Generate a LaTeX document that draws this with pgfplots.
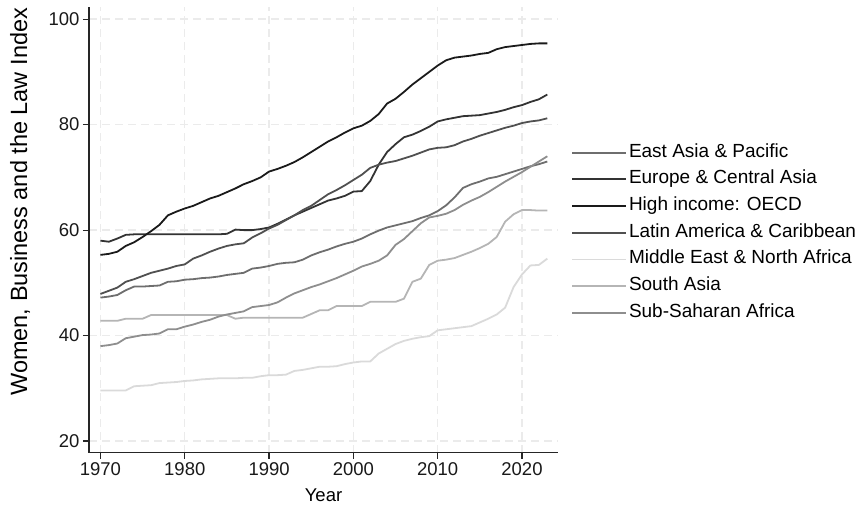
\documentclass[border=0pt]{standalone}
\usepackage{pgfplots}
\pgfplotsset{compat=1.18}
\usepackage{pgfplotstable}
\usetikzlibrary{calc}
\usepackage{fontspec}
\setmainfont{Liberation Sans}
\definecolor{cEAP}{HTML}{6E6E6E}
\definecolor{cECA}{HTML}{333333}
\definecolor{cOECD}{HTML}{1A1A1A}
\definecolor{cLAC}{HTML}{505050}
\definecolor{cMENA}{HTML}{DADADA}
\definecolor{cSA}{HTML}{B5B5B5}
\definecolor{cSSA}{HTML}{8E8E8E}
\definecolor{gridc}{HTML}{EBEBEB}
\pgfplotstableread{
year EAP ECA OECD LAC MENA SA SSA
1970 47.2 58.0 55.3 47.9 29.6 42.8 38.0
1971 47.4 57.8 55.5 48.5 29.6 42.8 38.2
1972 47.7 58.4 55.9 49.1 29.6 42.8 38.5
1973 48.6 59.1 57.0 50.2 29.6 43.2 39.5
1974 49.3 59.2 57.7 50.7 30.4 43.2 39.8
1975 49.3 59.2 58.7 51.3 30.5 43.2 40.1
1976 49.4 59.2 59.8 51.9 30.6 43.9 40.2
1977 49.5 59.2 61.0 52.3 31.0 43.9 40.4
1978 50.2 59.2 62.8 52.7 31.1 43.9 41.2
1979 50.3 59.2 63.5 53.2 31.2 43.9 41.2
1980 50.6 59.2 64.1 53.5 31.4 43.9 41.7
1981 50.7 59.2 64.6 54.6 31.5 43.9 42.1
1982 50.9 59.2 65.3 55.2 31.7 43.9 42.6
1983 51.0 59.2 66.0 55.9 31.8 43.9 43.0
1984 51.2 59.2 66.5 56.5 31.9 43.9 43.6
1985 51.5 59.3 67.2 57.0 31.9 43.9 44.0
1986 51.7 60.1 67.9 57.3 31.9 43.2 44.3
1987 51.9 60.0 68.7 57.5 32.0 43.4 44.6
1988 52.7 60.0 69.3 58.6 32.0 43.4 45.4
1989 52.9 60.2 70.0 59.4 32.3 43.4 45.6
1990 53.2 60.5 71.1 60.3 32.5 43.4 45.8
1991 53.6 61.2 71.6 61.0 32.5 43.4 46.3
1992 53.8 62.0 72.2 61.9 32.6 43.4 47.2
1993 53.9 62.8 72.9 62.8 33.3 43.4 48.0
1994 54.4 63.5 73.8 63.8 33.5 43.4 48.6
1995 55.2 64.2 74.8 64.6 33.8 44.1 49.2
1996 55.8 64.9 75.8 65.7 34.1 44.8 49.7
1997 56.3 65.6 76.8 66.8 34.1 44.8 50.3
1998 56.9 66.0 77.6 67.6 34.2 45.6 50.9
1999 57.4 66.5 78.5 68.5 34.6 45.6 51.6
2000 57.8 67.3 79.3 69.5 34.9 45.6 52.3
2001 58.4 67.4 79.8 70.5 35.1 45.6 53.1
2002 59.2 69.3 80.7 71.8 35.1 46.4 53.6
2003 59.9 72.4 82.0 72.4 36.6 46.4 54.2
2004 60.5 74.8 84.0 72.8 37.5 46.4 55.2
2005 60.9 76.3 84.9 73.1 38.4 46.4 57.2
2006 61.3 77.6 86.2 73.6 39.0 47.0 58.3
2007 61.7 78.1 87.6 74.1 39.4 50.2 59.8
2008 62.3 78.8 88.8 74.7 39.7 50.8 61.3
2009 62.8 79.6 90.0 75.3 39.9 53.4 62.4
2010 63.6 80.6 91.2 75.6 41.0 54.2 62.7
2011 64.7 81.0 92.2 75.7 41.2 54.4 63.1
2012 66.2 81.3 92.7 76.1 41.4 54.7 63.8
2013 68.0 81.6 92.9 76.8 41.6 55.3 64.8
2014 68.7 81.7 93.1 77.3 41.8 55.9 65.6
2015 69.2 81.8 93.4 77.9 42.5 56.6 66.3
2016 69.8 82.1 93.6 78.4 43.2 57.4 67.2
2017 70.1 82.4 94.3 78.9 44.0 58.7 68.2
2018 70.6 82.8 94.7 79.4 45.3 61.6 69.2
2019 71.1 83.3 94.9 79.8 49.2 63.0 70.1
2020 71.6 83.7 95.1 80.3 51.6 63.8 71.0
2021 72.1 84.3 95.3 80.6 53.3 63.8 72.0
2022 72.5 84.8 95.4 80.8 53.4 63.7 73.0
2023 73.0 85.7 95.4 81.2 54.6 63.7 74.0
}\datatable
\begin{document}
\begin{tikzpicture}
\path[use as bounding box] (-89pt,-58.3pt) rectangle (767pt,452.7pt);
\begin{axis}[
  scale only axis,
  width=469pt, height=445.7pt,
  xmin=1968.64, xmax=2024.27,
  ymin=17.8, ymax=102.3,
  axis lines*=left,
  axis line style={color=black!85, line width=1.2pt},
  tick align=outside,
  major tick length=6pt,
  tick style={color=black!85, line width=1.2pt},
  xtick={1970,1980,...,2020},
  ytick={20,40,...,100},
  x tick label style={/pgf/number format/1000 sep={}},
  /pgf/number format/assume math mode=true,
  tick label style={font=\fontsize{18.5}{22}\selectfont, color=black!90},
  grid=major,
  major grid style={color=gridc, line width=1.3pt, dash pattern=on 8pt off 5pt},
  xlabel={Year},
  ylabel={Women, Business and the Law Index},
  every axis x label/.style={at={($(rel axis cs:0.5,0)+(0pt,-42.3pt)$)}, anchor=center,
    font=\fontsize{18.5}{22}\selectfont},
  every axis y label/.style={at={($(rel axis cs:0,0.563)+(-69pt,0pt)$)}, anchor=center, rotate=90,
    font=\fontsize{23.5}{27}\selectfont},
  legend style={at={(1,0.4935)}, anchor=west, xshift=13pt, draw=none, fill=none, inner sep=0pt,
    font=\fontsize{19}{22}\selectfont, row sep=9.7pt, cells={anchor=west},
    nodes={text height=13pt, text depth=4pt, inner ysep=0pt}},
  legend image code/.code={\draw[#1, line width=1.8pt] (0pt,0pt) -- (44pt,0pt); \path (0pt,0pt) -- (54pt,0pt);},
  every axis plot/.append style={line width=1.8pt, line join=round},
  clip=false,
]
\addplot[color=cEAP, no markers] table[x=year, y=EAP] {\datatable};
\addlegendentry{East Asia \& Pacific}
\addplot[color=cECA, no markers] table[x=year, y=ECA] {\datatable};
\addlegendentry{Europe \& Central Asia}
\addplot[color=cOECD, no markers] table[x=year, y=OECD] {\datatable};
\addlegendentry{High income: OECD}
\addplot[color=cLAC, no markers] table[x=year, y=LAC] {\datatable};
\addlegendentry{Latin America \& Caribbean}
\addplot[color=cMENA, no markers] table[x=year, y=MENA] {\datatable};
\addlegendentry{Middle East \& North Africa}
\addplot[color=cSA, no markers] table[x=year, y=SA] {\datatable};
\addlegendentry{South Asia}
\addplot[color=cSSA, no markers] table[x=year, y=SSA] {\datatable};
\addlegendentry{Sub-Saharan Africa}
\end{axis}
\end{tikzpicture}
\end{document}
